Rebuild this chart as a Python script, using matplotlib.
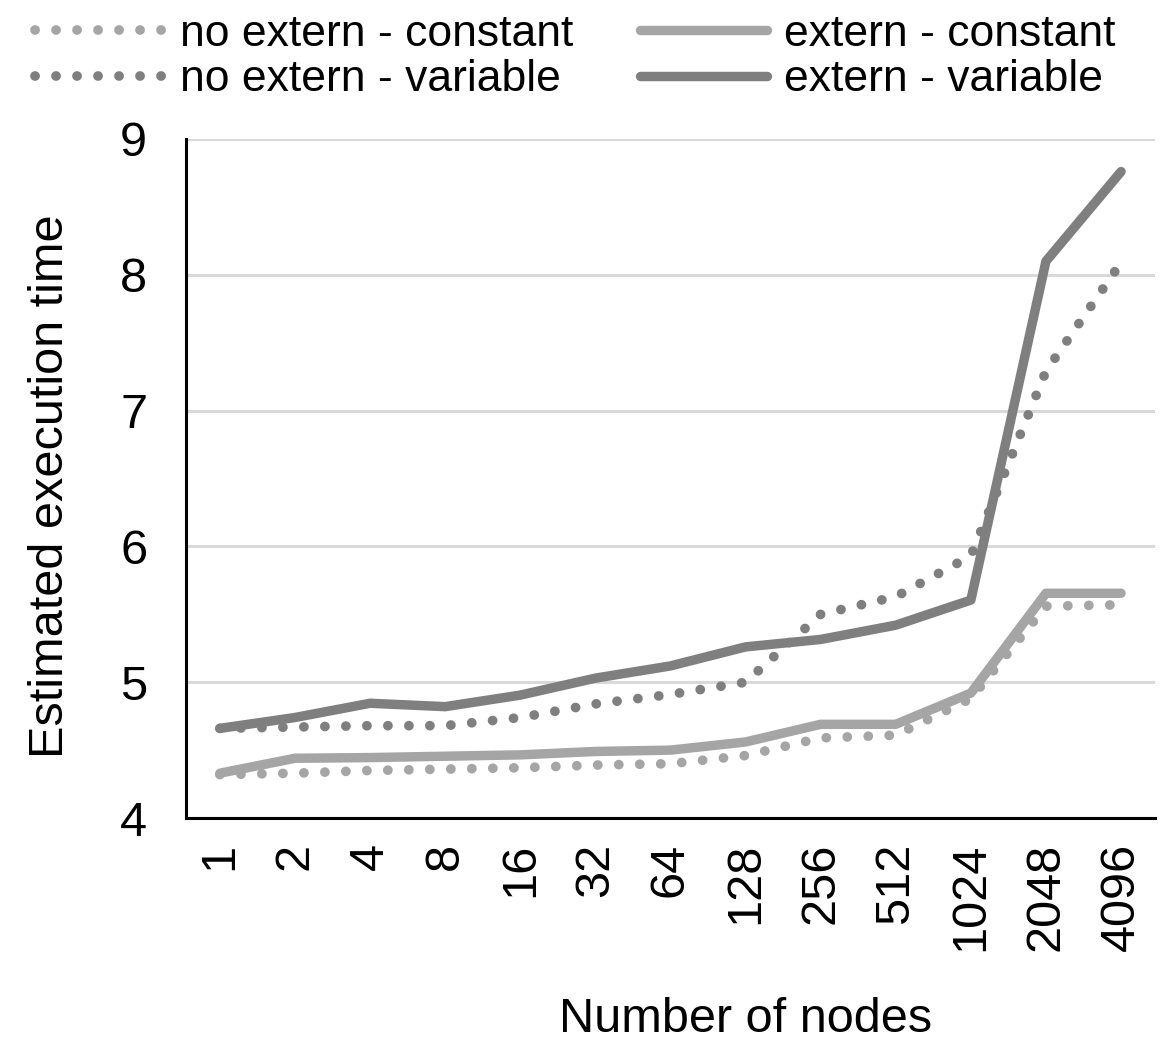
import matplotlib.pyplot as plt

# --- data ---
nodes = ['1', '2', '4', '8', '16', '32', '64', '128', '256', '512', '1024', '2048', '4096']
no_extern_constant = [4.32, 4.33, 4.35, 4.36, 4.37, 4.39, 4.40, 4.46, 4.59, 4.61, 4.88, 5.56, 5.57]
no_extern_variable = [4.66, 4.67, 4.68, 4.68, 4.74, 4.84, 4.91, 5.00, 5.50, 5.63, 5.93, 7.29, 8.09]
extern_constant = [4.33, 4.44, 4.445, 4.455, 4.465, 4.49, 4.50, 4.56, 4.69, 4.69, 4.92, 5.655, 5.655]
extern_variable = [4.66, 4.74, 4.845, 4.82, 4.905, 5.03, 5.12, 5.26, 5.315, 5.42, 5.605, 8.10, 8.76]

light = '#a5a5a5'
dark = '#7f7f7f'

plt.rcParams['font.family'] = ['Liberation Sans', 'DejaVu Sans']

fig = plt.figure(figsize=(11.63, 10.41), dpi=100)
ax = fig.add_axes([0.16, 0.2142, 0.833, 0.6523])

x = list(range(len(nodes)))
dots = (0, (0.01, 2.15))
ax.plot(x, no_extern_constant, color=light, lw=7, linestyle=dots,
        dash_capstyle='round', label='no extern - constant', zorder=3)
ax.plot(x, no_extern_variable, color=dark, lw=7, linestyle=dots,
        dash_capstyle='round', label='no extern - variable', zorder=3)
ax.plot(x, extern_constant, color=light, lw=6.8, solid_capstyle='round',
        solid_joinstyle='round', label='extern - constant', zorder=3)
ax.plot(x, extern_variable, color=dark, lw=6.8, solid_capstyle='round',
        solid_joinstyle='round', label='extern - variable', zorder=3)

ax.set_xlim(-0.45, 12.45)
ax.set_ylim(4, 9)
ax.set_yticks([4, 5, 6, 7, 8, 9])
ax.set_xticks(x)
ax.set_xticklabels(nodes, rotation=90)
ax.tick_params(axis='both', length=0, labelsize=35)
ax.tick_params(axis='y', pad=28)
ax.tick_params(axis='x', pad=18)

ax.grid(axis='y', color='#d9d9d9', lw=2.2, zorder=0)
ax.set_axisbelow(True)
for s in ['top', 'right']:
    ax.spines[s].set_visible(False)
for s in ['left', 'bottom']:
    ax.spines[s].set_linewidth(2.2)
    ax.spines[s].set_color('black')

ax.set_xlabel('Number of nodes', fontsize=35, labelpad=33, x=0.578)
ax.set_ylabel('Estimated execution time', fontsize=35, labelpad=34, y=0.488)

ax.legend(loc='upper center', bbox_to_anchor=(0.495, 1.025), bbox_transform=fig.transFigure,
          ncol=2, frameon=False, fontsize=32, handlelength=2.85, handletextpad=0.4,
          columnspacing=1.5, labelspacing=0.1)

plt.savefig('out.png', dpi=100)
